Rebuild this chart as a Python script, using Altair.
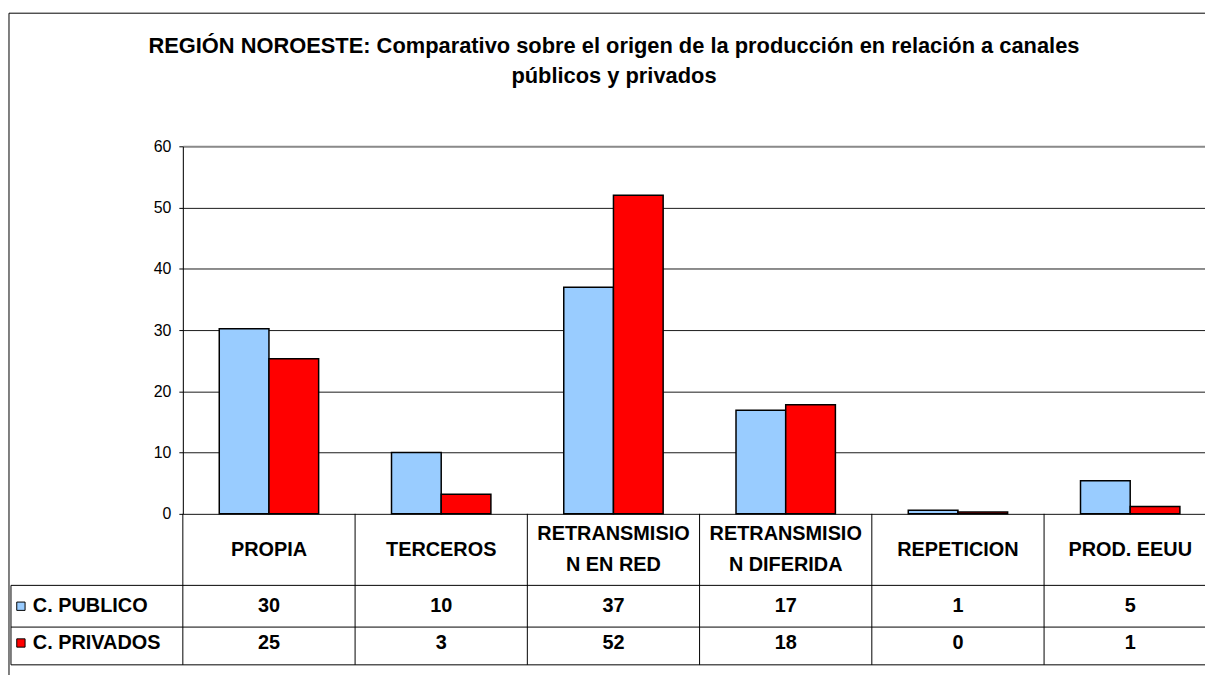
import altair as alt
import pandas as pd

# ---- data ----
categories = ["PROPIA", "TERCEROS", "RETRANSMISIO\nN EN RED",
              "RETRANSMISIO\nN DIFERIDA", "REPETICION", "PROD. EEUU"]
series = ["C. PUBLICO", "C. PRIVADOS"]
publico = [30.2, 10.0, 37.0, 16.9, 0.6, 5.4]
privados = [25.3, 3.2, 52.0, 17.8, 0.3, 1.2]
colors = ["#99CCFF", "#FF0000"]
y_ticks = [0, 10, 20, 30, 40, 50, 60]
title_lines = ["REGIÓN NOROESTE: Comparativo sobre el origen de la producción en relación a canales",
               "públicos y privados"]

# ---- layout (pixels, relative to plot origin) ----
W, H = 1029, 370
COL = 173.4
TBL_LEFT = -173
ROW_Y = [463, 500]          # text centers of data rows
HEADER_Y = 406
HEADER_LH = 32
LINES_H = [442, 484, 522]
TBL_BOTTOM = 522

rows = []
for i, c in enumerate(categories):
    rows.append({"cat": c, "serie": series[0], "value": publico[i], "ry": ROW_Y[0]})
    rows.append({"cat": c, "serie": series[1], "value": privados[i], "ry": ROW_Y[1]})
df = pd.DataFrame(rows)

xscale = alt.Scale(domain=categories, range=[0, 6 * COL], paddingInner=0.423, paddingOuter=0.2115)
xenc = alt.X("cat:N", sort=categories, scale=xscale, axis=None)
cscale = alt.Scale(domain=series, range=colors)

bars = alt.Chart(df).mark_bar(stroke="black", strokeWidth=1.5).encode(
    x=xenc,
    xOffset=alt.XOffset("serie:N", sort=series,
                        scale=alt.Scale(domain=series, paddingInner=0, paddingOuter=0)),
    y=alt.Y("value:Q", scale=alt.Scale(domain=[0, 60], nice=False),
            axis=alt.Axis(values=y_ticks, title=None, grid=True,
                          gridColor={"condition": {"test": "datum.value === 60", "value": "#8a8a8a"},
                                     "value": "#1a1a1a"},
                          gridWidth={"condition": {"test": "datum.value === 60", "value": 2},
                                     "value": 1},
                          tickSize=4, labelPadding=8, labelFontSize=16,
                          labelColor="black", domainColor="black", tickColor="black")),
    color=alt.Color("serie:N", scale=cscale, legend=None),
)

# table lines
line_rows = []
for yy in LINES_H:
    line_rows.append({"x1": TBL_LEFT, "x2": W, "y1": yy, "y2": yy})
line_rows.append({"x1": TBL_LEFT, "x2": TBL_LEFT, "y1": LINES_H[0], "y2": TBL_BOTTOM})
for k in range(6):
    line_rows.append({"x1": k * COL, "x2": k * COL, "y1": H, "y2": TBL_BOTTOM})
# outer chart border
line_rows.append({"x1": -175, "x2": -175, "y1": -134, "y2": 540})
line_rows.append({"x1": -175, "x2": W, "y1": -134, "y2": -134})
lines_df = pd.DataFrame(line_rows)

lines = alt.Chart(lines_df).mark_rule(color="black", strokeWidth=1).encode(
    x=alt.X("x1:Q", scale=None), x2="x2:Q",
    y=alt.Y("y1:Q", scale=None), y2="y2:Q",
)

header_df = pd.DataFrame({
    "cat": categories,
    "hy": [HEADER_Y - HEADER_LH / 2 * (c.count("\n")) for c in categories],
})
header = alt.Chart(header_df).mark_text(
    fontSize=20, fontWeight="bold", lineBreak="\n", lineHeight=HEADER_LH,
    baseline="middle", align="center", color="black"
).encode(x=xenc, y=alt.Y("hy:Q", scale=None), text="cat:N")

values = alt.Chart(df).transform_calculate(
    label="format(round(datum.value), 'd')"
).mark_text(fontSize=20, fontWeight="bold", baseline="middle", align="center", color="black").encode(
    x=xenc, y=alt.Y("ry:Q", scale=None), text="label:N"
)

leg_df = pd.DataFrame({"serie": series, "ry": ROW_Y})
squares = alt.Chart(leg_df).mark_square(size=70, stroke="black", strokeWidth=1, opacity=1).encode(
    x=alt.value(-163), y=alt.Y("ry:Q", scale=None),
    color=alt.Color("serie:N", scale=cscale, legend=None),
)
row_labels = alt.Chart(leg_df).mark_text(
    fontSize=20, fontWeight="bold", align="left", baseline="middle", color="black"
).encode(x=alt.value(-151), y=alt.Y("ry:Q", scale=None), text="serie:N")

title = alt.Chart(pd.DataFrame({"t": ["\n".join(title_lines)]})).mark_text(
    fontSize=22, fontWeight="bold", lineBreak="\n", lineHeight=30,
    baseline="middle", align="center", color="black"
).encode(x=alt.value(434), y=alt.value(-101), text="t:N")

chart = alt.layer(bars, lines, header, values, squares, row_labels, title).properties(
    width=W, height=H,
    padding={"left": 176, "top": 137, "right": 0, "bottom": 160},
    autosize=alt.AutoSizeParams(type="none"),
).configure_view(stroke=None).configure(font="Liberation Sans")

chart.save("out.html", embed_options={"renderer": "svg", "actions": False})
